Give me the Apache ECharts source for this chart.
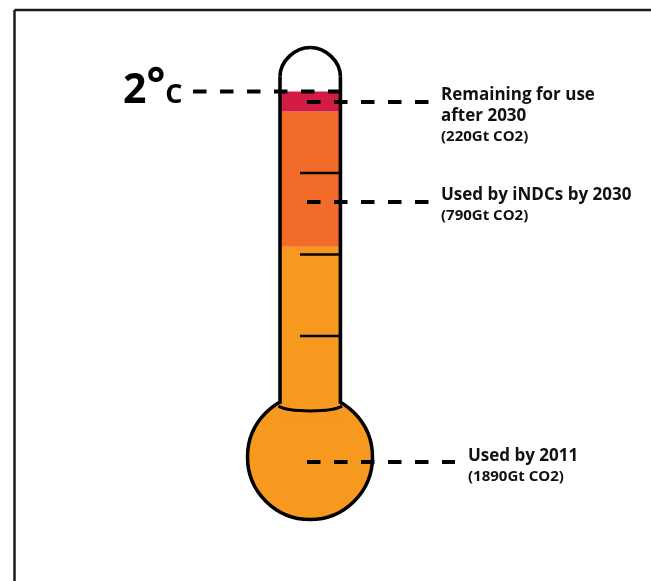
<!DOCTYPE html>
<html><head><meta charset="utf-8">
<style>html,body{margin:0;padding:0;background:#fff}#c{width:651px;height:581px}</style>
<script src="https://cdn.jsdelivr.net/npm/echarts@6/dist/echarts.min.js"></script>
</head><body><div id="c"></div>
<script>
// Data
const categories = ['Thermometer'];
const usedBy2011 = [1.048];
const usedByINDCs = [0.829];
const remaining = [0.123];
const tickLevels = [1.5, 1, 0.5];
const leaderLevels = [1.936, 1.322, -0.273];
const labelTitles = ['Remaining for use\nafter 2030', 'Used by iNDCs by 2030', 'Used by 2011'];
const labelSubs = ['(220Gt CO2)', '(790Gt CO2)', '(1890Gt CO2)'];

// Layout
const INK = '#000';
const AMBER = '#F7981F', ORANGE = '#F26B29', RED = '#D21C44';
const FONT = '"Open Sans"';
const leaderStart = 307, leaderEnds = [428.5, 428.5, 455];
const labelX = [441, 441, 468];
const labelY = [1.854, 1.303, -0.297];

const chart = echarts.init(document.getElementById('c'), null, {renderer: 'canvas'});

function lineSeries(data, width, dash, z) {
  return {type: 'line', xAxisIndex: 1, yAxisIndex: 1, data, symbol: 'none', silent: true, clip: false, z,
    lineStyle: {color: INK, width, type: dash || 'solid', cap: 'butt', opacity: 1}};
}

const series = [
  // bulb
  {type: 'scatter', xAxisIndex: 1, yAxisIndex: 1, data: [[310, -0.242]], symbol: 'circle', symbolSize: 125, silent: true, clip: false, z: 1,
    itemStyle: {color: AMBER, borderColor: INK, borderWidth: 3.5, opacity: 1}},
  // tube fill
  {type: 'bar', name: 'Used by 2011', stack: 't', data: usedBy2011, barWidth: 60, itemStyle: {color: AMBER}, silent: true, z: 2},
  {type: 'bar', name: 'Used by iNDCs by 2030', stack: 't', data: usedByINDCs, barWidth: 60, itemStyle: {color: ORANGE}, silent: true, z: 2},
  {type: 'bar', name: 'Remaining for use after 2030', stack: 't', data: remaining, barWidth: 60, itemStyle: {color: RED}, silent: true, z: 2},
  // outline: walls, dome and neck
  {type: 'custom', xAxisIndex: 1, yAxisIndex: 1, clip: false, silent: true, z: 3, data: [[0]],
    renderItem(params, api) {
      const p = (x, y) => api.coord([x, y]);
      const a = p(280, 0.085), b = p(280, 2.09), c = p(340.4, 2.09), d = p(340.4, 0.085);
      const nl = p(278.5, 0.07), nr = p(342, 0.07), nc = p(310, 0.03);
      const apex = p(310.2, 2.27);
      const st = {fill: 'none', stroke: INK, lineWidth: 3.6};
      return {type: 'group', children: [
        {type: 'line', shape: {x1: a[0], y1: a[1], x2: b[0], y2: b[1]}, style: st},
        {type: 'line', shape: {x1: d[0], y1: d[1], x2: c[0], y2: c[1]}, style: st},
        {type: 'bezierCurve', shape: {x1: b[0], y1: b[1], cpx1: b[0], cpy1: b[1] - 16, cpx2: apex[0] - 15, cpy2: apex[1], x2: apex[0], y2: apex[1]}, style: st},
        {type: 'bezierCurve', shape: {x1: apex[0], y1: apex[1], cpx1: apex[0] + 15, cpy1: apex[1], cpx2: c[0], cpy2: c[1] - 16, x2: c[0], y2: c[1]}, style: st},
        {type: 'bezierCurve', shape: {x1: nl[0], y1: nl[1], cpx1: nl[0] + 10, cpy1: nc[1], cpx2: nr[0] - 10, cpy2: nc[1], x2: nr[0], y2: nr[1]}, style: {fill: 'none', stroke: INK, lineWidth: 3}}
      ]};
    }},
  // scale ticks
  ...tickLevels.map(v => lineSeries([[300, v], [340, v]], 2.6, null, 4)),
  // 2 degree line and leaders
  lineSeries([[193, 2], [341, 2]], 4, [13.5, 13.5], 5),
  ...leaderLevels.map((v, i) => lineSeries([[leaderStart, v], [leaderEnds[i], v]], 4, [13.5, 13.5], 5)),
  // text
  {type: 'scatter', xAxisIndex: 1, yAxisIndex: 1, symbolSize: 0, silent: true, clip: false, z: 6,
    itemStyle: {opacity: 1},
    data: labelTitles.map((t, i) => ({value: [labelX[i], labelY[i]], t, s: labelSubs[i]})),
    label: {show: true, position: 'right', distance: 0, align: 'left', opacity: 1,
      formatter: p => `{t|${p.data.t.split('\n').join('}\n{t|')}}\n{s|${p.data.s}}`,
      rich: {
        t: {fontFamily: FONT, fontWeight: 'bold', fontSize: 17, lineHeight: 21, color: '#111'},
        s: {fontFamily: FONT, fontWeight: 'bold', fontSize: 15, lineHeight: 19, color: '#111'}
      }}},
  {type: 'scatter', xAxisIndex: 1, yAxisIndex: 1, symbolSize: 0, silent: true, clip: false, z: 6,
    itemStyle: {opacity: 1},
    data: [{value: [123, 2.03]}],
    label: {show: true, position: 'right', distance: 0, opacity: 1,
      formatter: '{a|2}{d|°}{b|C}',
      rich: {
        a: {fontFamily: FONT, fontWeight: 'bold', fontSize: 41, lineHeight: 50, color: '#000', verticalAlign: 'bottom'},
        d: {fontFamily: FONT, fontWeight: 'bold', fontSize: 44, lineHeight: 50, color: '#000', verticalAlign: 'bottom', padding: [0, 0, 3, 0]},
        b: {fontFamily: FONT, fontWeight: 'bold', fontSize: 27, lineHeight: 50, color: '#000', verticalAlign: 'bottom', padding: [0, 0, 3, 0]}
      }}}
];

chart.setOption({
  animation: false,
  backgroundColor: '#fff',
  grid: [
    {left: 250, width: 120, top: 91.5, height: 326},
    {left: 0, width: 651, top: 91.5, height: 326}
  ],
  xAxis: [
    {type: 'category', gridIndex: 0, data: categories, show: false},
    {type: 'value', gridIndex: 1, min: 0, max: 651, show: false}
  ],
  yAxis: [
    {type: 'value', gridIndex: 0, min: 0, max: 2, show: false},
    {type: 'value', gridIndex: 1, min: 0, max: 2, show: false}
  ],
  series,
  graphic: [
    {type: 'line', shape: {x1: 14.5, y1: 10, x2: 651, y2: 10}, style: {stroke: '#1a1a1a', lineWidth: 2.5}},
    {type: 'line', shape: {x1: 14.5, y1: 10, x2: 14.5, y2: 581}, style: {stroke: '#1a1a1a', lineWidth: 2.5}}
  ]
});
</script></body></html>
